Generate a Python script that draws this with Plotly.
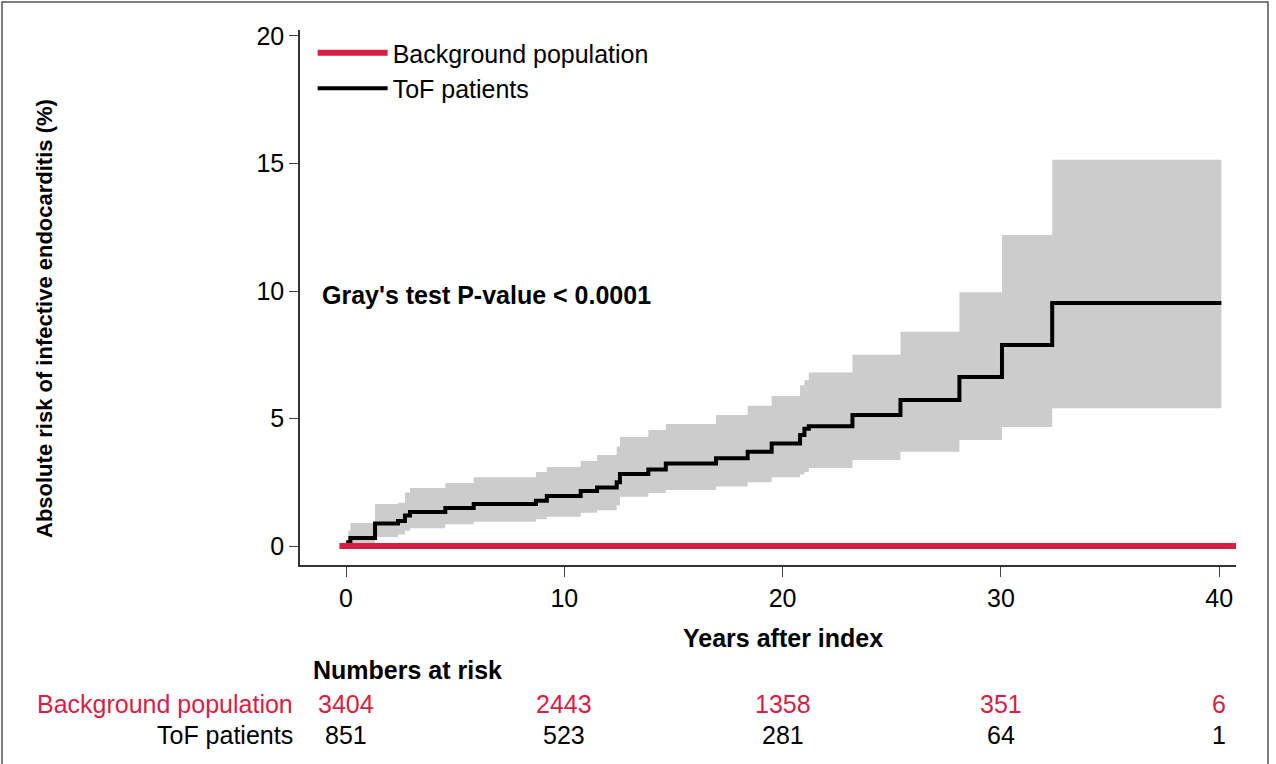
import plotly.graph_objects as go

# ---- data ----
tof_times = [0, 0.1, 0.2, 1.33, 2.38, 2.7, 2.93, 4.55, 5.85, 8.7, 9.2, 10.75, 11.5, 12.4, 12.55,
             13.85, 14.65, 16.95, 18.4, 19.5, 20.8, 21.0, 21.2, 23.2, 25.4, 28.1, 30.05, 32.35, 40.1]
tof_risk = [0, 0.15, 0.31, 0.88, 0.98, 1.2, 1.33, 1.49, 1.65, 1.77, 1.96, 2.16, 2.29, 2.5, 2.82,
            3.0, 3.24, 3.44, 3.7, 4.02, 4.35, 4.6, 4.7, 5.14, 5.73, 6.63, 7.88, 9.53, 9.53]
tof_lower = [0, 0, 0.05, 0.35, 0.45, 0.6, 0.7, 0.85, 0.95, 1.05, 1.15, 1.3, 1.4, 1.6, 1.93,
             2.08, 2.2, 2.33, 2.5, 2.7, 2.8, 2.9, 3.06, 3.37, 3.7, 4.16, 4.67, 5.4, 5.4]
tof_upper = [0, 0.6, 0.9, 1.65, 1.7, 2.1, 2.27, 2.47, 2.7, 2.9, 3.1, 3.33, 3.57, 3.9, 4.27,
             4.55, 4.78, 5.14, 5.5, 5.88, 6.3, 6.5, 6.8, 7.5, 8.4, 9.95, 12.2, 15.15, 15.15]

bg_times = [-0.3, 40.8]
bg_risk = [0, 0]

risk_times = [0, 10, 20, 30, 40]
bg_at_risk = [3404, 2443, 1358, 351, 6]
tof_at_risk = [851, 523, 281, 64, 1]

x_ticks = [0, 10, 20, 30, 40]
y_ticks = [0, 5, 10, 15, 20]

RED = "#D81E44"
FONT = "Liberation Sans, Arial, sans-serif"

# plot-area geometry (pixels) for paper-coordinate placement
W, H = 1276, 764
ML, MR, MT, MB = 300, 40, 30, 199
PW, PH = W - ML - MR, H - MT - MB


def px_x(px):
    return (px - ML) / PW


def px_y(py):
    return (H - MB - py) / PH


fig = go.Figure()

# confidence band
fig.add_trace(go.Scatter(x=tof_times, y=tof_lower, mode="lines", line=dict(width=0, shape="hv"),
                         showlegend=False, hoverinfo="skip"))
fig.add_trace(go.Scatter(x=tof_times, y=tof_upper, mode="lines", line=dict(width=0, shape="hv"),
                         fill="tonexty", fillcolor="#CCCCCC", showlegend=False, hoverinfo="skip"))
# ToF curve
fig.add_trace(go.Scatter(x=tof_times, y=tof_risk, mode="lines", name="ToF patients",
                         line=dict(color="black", width=4, shape="hv"), legendrank=2))
# Background population
fig.add_trace(go.Scatter(x=bg_times, y=bg_risk, mode="lines", name="Background population",
                         line=dict(color=RED, width=6, shape="hv"), legendrank=1))

annotations = []
annotations.append(dict(x=px_x(320), xref="paper", y=9.85, yref="y", text="<b>Gray's test P-value < 0.0001</b>",
                        showarrow=False, xanchor="left", yanchor="middle",
                        font=dict(family=FONT, size=25, color="black")))
annotations.append(dict(x=20, xref="x", y=px_y(638), yref="paper", text="<b>Years after index</b>",
                        showarrow=False, xanchor="center", yanchor="middle",
                        font=dict(family=FONT, size=25, color="black")))
annotations.append(dict(x=px_x(44), xref="paper", y=px_y(319), yref="paper",
                        text="<b>Absolute risk of infective endocarditis (%)</b>", textangle=-90,
                        showarrow=False, xanchor="center", yanchor="middle",
                        font=dict(family=FONT, size=22, color="black")))
annotations.append(dict(x=px_x(311), xref="paper", y=px_y(670), yref="paper", text="<b>Numbers at risk</b>",
                        showarrow=False, xanchor="left", yanchor="middle",
                        font=dict(family=FONT, size=25, color="black")))
annotations.append(dict(x=px_x(295), xref="paper", y=px_y(704), yref="paper", text="Background population",
                        showarrow=False, xanchor="right", yanchor="middle",
                        font=dict(family=FONT, size=25, color=RED)))
annotations.append(dict(x=px_x(295), xref="paper", y=px_y(735), yref="paper", text="ToF patients",
                        showarrow=False, xanchor="right", yanchor="middle",
                        font=dict(family=FONT, size=25, color="black")))
for t, n in zip(risk_times, bg_at_risk):
    annotations.append(dict(x=t, xref="x", y=px_y(704), yref="paper", text=str(n), showarrow=False,
                            xanchor="center", yanchor="middle", font=dict(family=FONT, size=25, color=RED)))
for t, n in zip(risk_times, tof_at_risk):
    annotations.append(dict(x=t, xref="x", y=px_y(735), yref="paper", text=str(n), showarrow=False,
                            xanchor="center", yanchor="middle", font=dict(family=FONT, size=25, color="black")))

fig.update_layout(
    width=W, height=H,
    margin=dict(l=ML, r=MR, t=MT, b=MB),
    paper_bgcolor="white", plot_bgcolor="white",
    font=dict(family=FONT, size=25, color="black"),
    showlegend=True,
    legend=dict(x=0.0135, y=1.0, xanchor="left", yanchor="top", bgcolor="rgba(0,0,0,0)",
                font=dict(family=FONT, size=25, color="black"), itemwidth=70,
                traceorder="normal", tracegroupgap=0),
    annotations=annotations,
    shapes=[dict(type="rect", xref="paper", yref="paper", x0=px_x(2), x1=px_x(1268),
                 y0=px_y(770), y1=px_y(2), line=dict(color="#555555", width=1.5),
                 fillcolor="rgba(0,0,0,0)", layer="below")],
)

fig.update_xaxes(range=[-2.107, 40.77], tickvals=x_ticks, ticks="outside", ticklen=10, tickwidth=1,
                 tickcolor="#444", showline=True, linecolor="#333", linewidth=1.5, showgrid=False,
                 zeroline=False, tickfont=dict(family=FONT, size=25, color="black"))
fig.update_yaxes(range=[-0.745, 20.235], tickvals=y_ticks, ticks="outside", ticklen=9, tickwidth=1,
                 tickcolor="#444", showline=True, linecolor="#333", linewidth=1.5, showgrid=False,
                 zeroline=False, tickfont=dict(family=FONT, size=25, color="black"))

fig.write_html("out.html", config={"displayModeBar": False},
               post_script="document.body.style.margin='0';document.body.style.overflow='hidden';")
